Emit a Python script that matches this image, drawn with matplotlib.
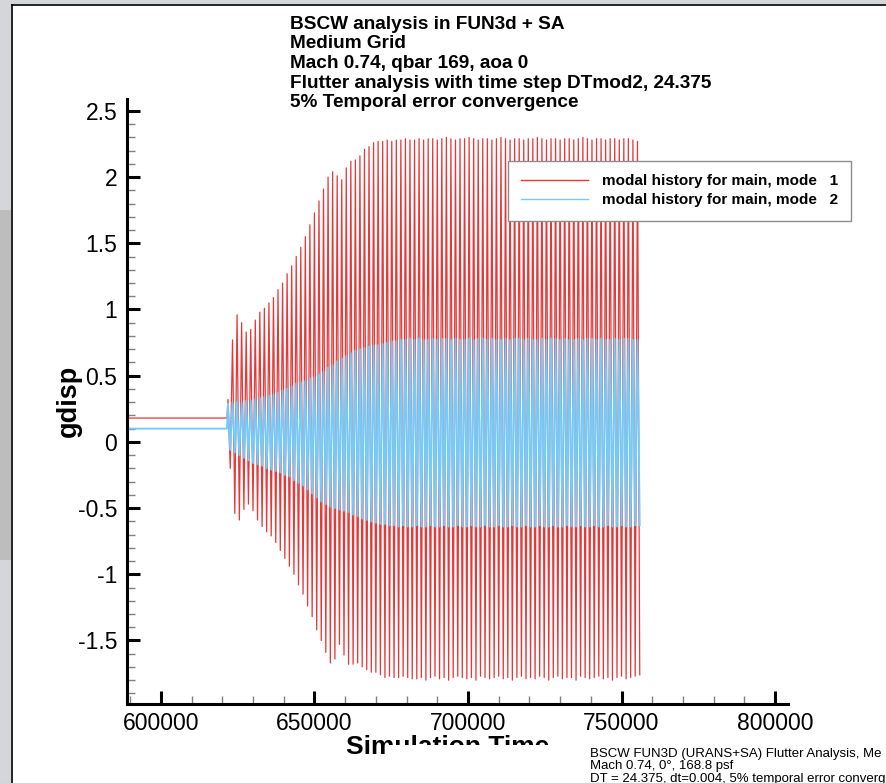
import numpy as np
import matplotlib
matplotlib.use('Agg')
import matplotlib.pyplot as plt
import matplotlib.ticker as mticker
from matplotlib.patches import Rectangle

plt.rcParams['font.family'] = ['Liberation Sans', 'DejaVu Sans']

# ---- data ----
# steady part before the flutter run starts
hold_t = [588000, 621500]
hold_mode1 = 0.18
hold_mode2 = 0.10

# time of each cycle's peak
peak_t = [
    621820, 623302, 624784, 626266, 627748, 629230, 630712, 632194, 633676, 635158,
    636640, 638122, 639604, 641086, 642568, 644050, 645532, 647014, 648496, 649978,
    651460, 652942, 654424, 655906, 657388, 658870, 660352, 661834, 663316, 664798,
    666280, 667762, 669244, 670726, 672208, 673690, 675172, 676654, 678136, 679618,
    681100, 682582, 684064, 685546, 687028, 688510, 689992, 691474, 692956, 694438,
    695920, 697402, 698884, 700366, 701848, 703330, 704812, 706294, 707776, 709258,
    710740, 712222, 713704, 715186, 716668, 718150, 719632, 721114, 722596, 724078,
    725560, 727042, 728524, 730006, 731488, 732970, 734452, 735934, 737416, 738898,
    740380, 741862, 743344, 744826, 746308, 747790, 749272, 750754, 752236, 753718,
    755200,
]

# mode 1 (red): max and min of each cycle
mode1_hi = [
    0.32, 0.77, 0.96, 0.90, 0.83, 0.85, 0.92, 0.98, 1.01, 1.05,
    1.09, 1.15, 1.20, 1.27, 1.33, 1.40, 1.47, 1.55, 1.64, 1.73,
    1.82, 1.91, 2.00, 2.04, 2.01, 1.98, 2.07, 2.12, 2.13, 2.16,
    2.21, 2.23, 2.26, 2.27, 2.27, 2.28, 2.27, 2.28, 2.28, 2.29,
    2.28, 2.28, 2.29, 2.28, 2.29, 2.29, 2.28, 2.29, 2.30, 2.29,
    2.28, 2.29, 2.29, 2.30, 2.29, 2.28, 2.29, 2.29, 2.28, 2.29,
    2.30, 2.29, 2.28, 2.29, 2.29, 2.28, 2.29, 2.29, 2.30, 2.29,
    2.28, 2.29, 2.29, 2.28, 2.29, 2.29, 2.28, 2.29, 2.30, 2.29,
    2.28, 2.29, 2.29, 2.28, 2.29, 2.29, 2.28, 2.29, 2.29, 2.28,
    2.27,
]
mode1_lo = [
    -0.20, -0.54, -0.59, -0.51, -0.47, -0.52, -0.59, -0.64, -0.68, -0.71,
    -0.76, -0.82, -0.88, -0.94, -1.00, -1.08, -1.15, -1.24, -1.32, -1.42,
    -1.50, -1.59, -1.67, -1.64, -1.53, -1.61, -1.68, -1.68, -1.67, -1.70,
    -1.72, -1.74, -1.74, -1.76, -1.78, -1.77, -1.78, -1.78, -1.77, -1.78,
    -1.79, -1.79, -1.78, -1.80, -1.78, -1.77, -1.79, -1.78, -1.80, -1.78,
    -1.77, -1.78, -1.79, -1.78, -1.80, -1.77, -1.78, -1.79, -1.78, -1.77,
    -1.79, -1.78, -1.80, -1.78, -1.77, -1.79, -1.78, -1.79, -1.77, -1.78,
    -1.80, -1.78, -1.77, -1.79, -1.78, -1.78, -1.80, -1.77, -1.78, -1.79,
    -1.78, -1.77, -1.79, -1.78, -1.80, -1.78, -1.77, -1.79, -1.78, -1.77,
    -1.76,
]

# mode 2 (blue): max and min of each cycle
mode2_hi = [
    0.29, 0.30, 0.30, 0.30, 0.31, 0.31, 0.32, 0.33, 0.34, 0.35,
    0.36, 0.37, 0.39, 0.40, 0.42, 0.44, 0.45, 0.46, 0.48, 0.49,
    0.51, 0.53, 0.56, 0.58, 0.61, 0.63, 0.65, 0.67, 0.69, 0.70,
    0.71, 0.72, 0.73, 0.73, 0.74, 0.75, 0.76, 0.76, 0.77, 0.77,
    0.78, 0.77, 0.78, 0.77, 0.77, 0.78, 0.77, 0.78, 0.78, 0.77,
    0.78, 0.77, 0.77, 0.78, 0.77, 0.78, 0.78, 0.77, 0.78, 0.77,
    0.77, 0.78, 0.77, 0.78, 0.78, 0.77, 0.78, 0.77, 0.77, 0.78,
    0.77, 0.78, 0.78, 0.77, 0.78, 0.77, 0.77, 0.78, 0.77, 0.78,
    0.78, 0.77, 0.78, 0.77, 0.77, 0.78, 0.77, 0.78, 0.78, 0.77,
    0.77,
]
mode2_lo = [
    -0.06, -0.08, -0.10, -0.12, -0.14, -0.16, -0.17, -0.18, -0.20, -0.21,
    -0.22, -0.23, -0.25, -0.26, -0.29, -0.31, -0.33, -0.36, -0.39, -0.42,
    -0.45, -0.47, -0.49, -0.50, -0.51, -0.52, -0.53, -0.55, -0.56, -0.58,
    -0.59, -0.60, -0.61, -0.62, -0.62, -0.63, -0.63, -0.64, -0.63, -0.64,
    -0.64, -0.63, -0.64, -0.64, -0.63, -0.64, -0.64, -0.63, -0.64, -0.64,
    -0.63, -0.64, -0.64, -0.63, -0.64, -0.64, -0.63, -0.64, -0.64, -0.63,
    -0.64, -0.64, -0.63, -0.64, -0.64, -0.63, -0.64, -0.64, -0.63, -0.64,
    -0.64, -0.63, -0.64, -0.64, -0.63, -0.64, -0.64, -0.63, -0.64, -0.64,
    -0.63, -0.64, -0.64, -0.63, -0.64, -0.64, -0.63, -0.64, -0.64, -0.63,
    -0.63,
]

labels = ['modal history for main, mode   1', 'modal history for main, mode   2']
title_lines = [
    'BSCW analysis in FUN3d + SA',
    'Medium Grid',
    'Mach 0.74, qbar 169, aoa 0',
    'Flutter analysis with time step DTmod2, 24.375',
    '5% Temporal error convergence',
]
# caption box, as much of it as the screenshot shows
note_lines = [
    'BSCW FUN3D (URANS+SA) Flutter Analysis, Me',
    'Mach 0.74, 0\u00b0, 168.8 psf',
    'DT = 24.375, dt=0.004, 5% temporal error converg',
]


def history(hold, hi, lo):
    # steady value, then peak / trough of every cycle
    pk = np.array(peak_t, dtype=float)
    half = np.diff(pk).mean() / 2
    t = np.empty(2 * len(pk))
    y = np.empty(2 * len(pk))
    t[0::2] = pk
    t[1::2] = pk + half
    y[0::2] = hi
    y[1::2] = lo
    return np.concatenate([hold_t, t]), np.concatenate([[hold, hold], y])


W, H = 886, 783
fig = plt.figure(figsize=(W / 100, H / 100), dpi=100)


def fx(px):
    return px / W


def fy(py):
    return 1 - py / H


# window frame at the left / top edge of the screenshot
fig.patches.append(Rectangle((0, 0), fx(11), 1, transform=fig.transFigure,
                             facecolor='#d4d6d9', edgecolor='none', zorder=0))
fig.patches.append(Rectangle((0, fy(560)), fx(11), fy(210) - fy(560), transform=fig.transFigure,
                             facecolor='#bdbdbd', edgecolor='none', zorder=0))
fig.patches.append(Rectangle((0, fy(4)), 1, fy(0) - fy(4), transform=fig.transFigure,
                             facecolor='#d4d6d9', edgecolor='none', zorder=0))
fig.add_artist(plt.Line2D([fx(11.5), fx(11.5)], [0, fy(4.5)], transform=fig.transFigure,
                          color='black', lw=1.2))
fig.add_artist(plt.Line2D([fx(11.5), 1], [fy(4.5), fy(4.5)], transform=fig.transFigure,
                          color='black', lw=1.2))

ax = fig.add_axes([fx(127), fy(704), fx(788) - fx(127), fy(99) - fy(704)])

t1, y1 = history(hold_mode1, mode1_hi, mode1_lo)
t2, y2 = history(hold_mode2, mode2_hi, mode2_lo)
ax.plot(t1, y1, color='#e63838', lw=0.9, label=labels[0])
ax.plot(t2, y2, color='#72cbfa', lw=1.35, label=labels[1])

ax.set_xlim(588930, 804230)
ax.set_ylim(-1.98, 2.59)

for s in ['top', 'right']:
    ax.spines[s].set_visible(False)
for s in ['left', 'bottom']:
    ax.spines[s].set_linewidth(2.2)

ax.xaxis.set_major_locator(mticker.MultipleLocator(50000))
ax.xaxis.set_minor_locator(mticker.MultipleLocator(10000))
ax.yaxis.set_major_locator(mticker.MultipleLocator(0.5))
ax.yaxis.set_minor_locator(mticker.MultipleLocator(0.1))
ax.xaxis.set_major_formatter(mticker.FuncFormatter(lambda v, p: '%d' % v))
ax.yaxis.set_major_formatter(mticker.FuncFormatter(lambda v, p: '%g' % v))
ax.tick_params(which='major', direction='in', length=9.5, width=2.2, labelsize=16.5)
ax.tick_params(which='minor', direction='in', length=5.8, width=1.0, color='#808080')
ax.tick_params(axis='y', which='major', pad=7)
ax.tick_params(axis='x', which='major', pad=5.5)

leg = ax.legend(loc='upper left', bbox_to_anchor=(fx(508), fy(161)), bbox_transform=fig.transFigure,
                fancybox=False, edgecolor='#8c8c8c', framealpha=1, borderaxespad=0,
                prop={'weight': 'bold', 'size': 11}, handlelength=4.35, handletextpad=0.9,
                labelspacing=0.32, borderpad=0.88)
leg.get_frame().set_linewidth(1.0)
for ln in leg.get_lines():
    ln.set_linewidth(1.0)

# title block
for i, line in enumerate(title_lines):
    fig.text(fx(290), fy(29 + 19.5 * i), line, fontsize=13.7, fontweight='bold',
             ha='left', va='baseline')

# y label
fig.text(fx(69), fy(401), 'gdisp', fontsize=19.5, fontweight='bold', rotation=90,
         ha='center', va='center')

# x label, partly hidden by the caption box
fig.text(fx(346), fy(754), 'Simulation Time', fontsize=19, fontweight='bold',
         ha='left', va='baseline', zorder=1)
fig.patches.append(Rectangle((fx(387), 0), 1 - fx(387), fy(745), transform=fig.transFigure,
                             facecolor='white', edgecolor='none', zorder=2))
for i, line in enumerate(note_lines):
    fig.text(fx(590), fy(757 + 12.3 * i), line, fontsize=9.5, ha='left', va='baseline', zorder=3)

fig.savefig('out.png', dpi=100)
